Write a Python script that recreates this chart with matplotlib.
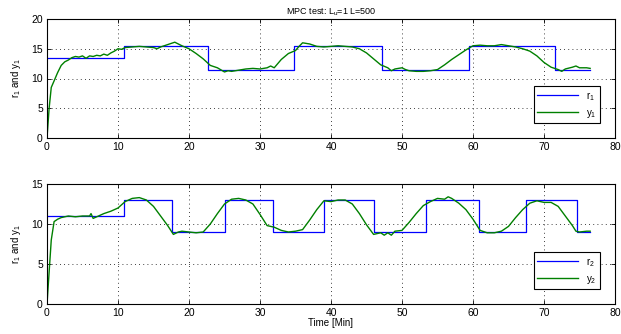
import matplotlib.pyplot as plt

plt.rcParams['font.family'] = ['Liberation Sans', 'DejaVu Sans']
plt.rcParams['mathtext.fontset'] = 'custom'
plt.rcParams['mathtext.rm'] = 'Liberation Sans'
plt.rcParams['mathtext.it'] = 'Liberation Sans'

# reference r1 (step setpoint)
r1_t = [0, 10.8, 10.8, 22.7, 22.7, 34.8, 34.8, 47.2, 47.2, 59.5, 59.5, 71.5, 71.5, 76.5]
r1_v = [13.5, 13.5, 15.5, 15.5, 11.5, 11.5, 15.5, 15.5, 11.5, 11.5, 15.5, 15.5, 11.5, 11.5]

# output y1
y1_t = [0, 0.3, 0.6, 1, 1.5, 2, 2.5, 3, 3.5, 4, 4.5, 5, 5.5, 6, 6.5, 7, 7.5, 8, 8.5, 9, 9.5, 10,
        10.5, 11, 12, 13, 14, 15, 15.5, 16, 17, 18, 18.5, 19, 20, 21, 22, 23, 24, 25, 25.5, 26, 27,
        28, 29, 30, 31, 31.5, 32, 33, 34, 35, 35.5, 36, 37, 38, 39, 40, 41, 42, 43, 44, 45, 46, 47,
        48, 48.5, 49, 50, 50.5, 51, 52, 53, 54, 55, 56, 57, 58, 59, 60, 61, 62, 63, 64, 65, 66, 67,
        68, 69, 70, 71, 72, 72.5, 73, 74, 74.5, 75, 76, 76.5]
y1_v = [0, 5, 8.5, 9.6, 11, 12.2, 12.8, 13.1, 13.5, 13.7, 13.6, 13.8, 13.4, 13.8, 13.7, 13.9, 13.8, 14.1, 13.9, 14.3, 14.6, 15.0,
        14.9, 15.2, 15.3, 15.4, 15.3, 15.2, 15.0, 15.3, 15.7, 16.1, 15.8, 15.5, 15.0, 14.2, 13.3, 12.2, 11.8, 11.1, 11.3, 11.2, 11.4,
        11.6, 11.7, 11.6, 11.8, 12.1, 11.8, 13.2, 14.2, 14.7, 15.4, 16.0, 15.8, 15.4, 15.3, 15.4, 15.5, 15.4, 15.3, 15.0, 14.3, 13.3, 12.3,
        11.8, 11.3, 11.6, 11.8, 11.5, 11.3, 11.2, 11.2, 11.3, 11.5, 12.3, 13.2, 14.0, 14.8, 15.5, 15.6, 15.5, 15.5, 15.7, 15.5, 15.3, 15.0,
        14.6, 13.8, 12.7, 11.9, 11.5, 11.2, 11.6, 11.9, 12.1, 11.8, 11.8, 11.7]

# reference r2
r2_t = [0, 10.8, 10.8, 17.6, 17.6, 25, 25, 31.8, 31.8, 39, 39, 46, 46, 53.4, 53.4, 60.8, 60.8,
        67.5, 67.5, 74.7, 74.7, 76.5]
r2_v = [11, 11, 13, 13, 9, 9, 13, 13, 9, 9, 13, 13, 9, 9, 13, 13, 9, 9, 13, 13, 9, 9]

# output y2
y2_t = [0, 0.3, 0.6, 1, 1.5, 2, 3, 4, 5, 6, 6.2, 6.5, 7, 8, 9, 10, 11, 12, 13, 14, 15, 16, 17,
        17.8, 18.5, 19, 20, 21, 22, 23, 24, 25, 26, 27, 28, 29, 30, 31, 32, 33, 34, 35, 36, 37,
        38, 39, 40, 41, 42, 43, 44, 45, 46, 47, 47.5, 48, 48.5, 49, 50, 51, 52, 53, 54, 55, 56,
        56.5, 57, 58, 59, 60, 61, 62, 63, 64, 65, 66, 67, 68, 69, 70, 71, 72, 73, 74, 74.5, 75, 76, 76.5]
y2_v = [0, 4, 8, 10.3, 10.6, 10.8, 11.0, 10.9, 11.0, 11.0, 11.3, 10.7, 10.9, 11.3, 11.6, 12.0, 12.8, 13.2, 13.3, 13.0, 12.2, 11.0, 9.8,
        8.7, 9.0, 9.1, 9.0, 8.9, 9.0, 10.0, 11.3, 12.5, 13.1, 13.2, 13.0, 12.5, 11.2, 9.8, 9.6, 9.2, 9.0, 9.1, 9.3, 10.5,
        11.8, 12.9, 12.8, 13.0, 13.0, 12.5, 11.3, 9.9, 8.7, 8.9, 8.6, 8.9, 8.6, 9.1, 9.2, 10.2, 11.3, 12.3, 12.8, 13.2, 13.1,
        13.4, 13.2, 12.6, 11.8, 10.6, 9.2, 8.9, 8.9, 9.1, 9.7, 10.8, 11.8, 12.6, 12.9, 12.7, 12.7, 12.2, 11.0, 9.8, 9.1, 9.0, 9.1, 9.1]

blue = (0, 0, 1)
green = (0, 0.5, 0)

fig = plt.figure(figsize=(6.21, 3.34), dpi=100)
ax1 = fig.add_axes([47 / 621, 1 - 138 / 334, 568 / 621, 119 / 334])
ax2 = fig.add_axes([47 / 621, 1 - 304 / 334, 568 / 621, 120 / 334])

ax1.plot(r1_t, r1_v, color=blue, lw=0.9, label='r$_1$')
ax1.plot(y1_t, y1_v, color=green, lw=1.0, label='y$_1$')
ax1.set_ylim(0, 20)
ax1.set_yticks([0, 5, 10, 15, 20])
ax1.set_title('MPC test: L$_u$=1 L=500', fontsize=6.5, pad=3)

ax2.plot(r2_t, r2_v, color=blue, lw=0.9, label='r$_2$')
ax2.plot(y2_t, y2_v, color=green, lw=1.0, label='y$_2$')
ax2.set_ylim(0, 15)
ax2.set_yticks([0, 5, 10, 15])
ax2.set_xlabel('Time [Min]', fontsize=7, labelpad=0)

for ax in (ax1, ax2):
    ax.set_xlim(0, 80)
    ax.set_xticks(range(0, 81, 10))
    ax.grid(True, linestyle=(0, (1, 4)), color='black', lw=0.6)
    ax.tick_params(direction='in', labelsize=7.5, length=3, width=0.6, pad=3,
                   top=True, right=True)
    for s in ax.spines.values():
        s.set_linewidth(0.8)
    ax.set_ylabel('r$_1$ and y$_1$', fontsize=7, labelpad=6)
    leg = ax.legend(loc='lower right', fontsize=7, fancybox=False, framealpha=1,
                    edgecolor='black', borderaxespad=1.5, handlelength=4.2)
    leg.get_frame().set_linewidth(0.8)

fig.savefig('out.png', dpi=100)
